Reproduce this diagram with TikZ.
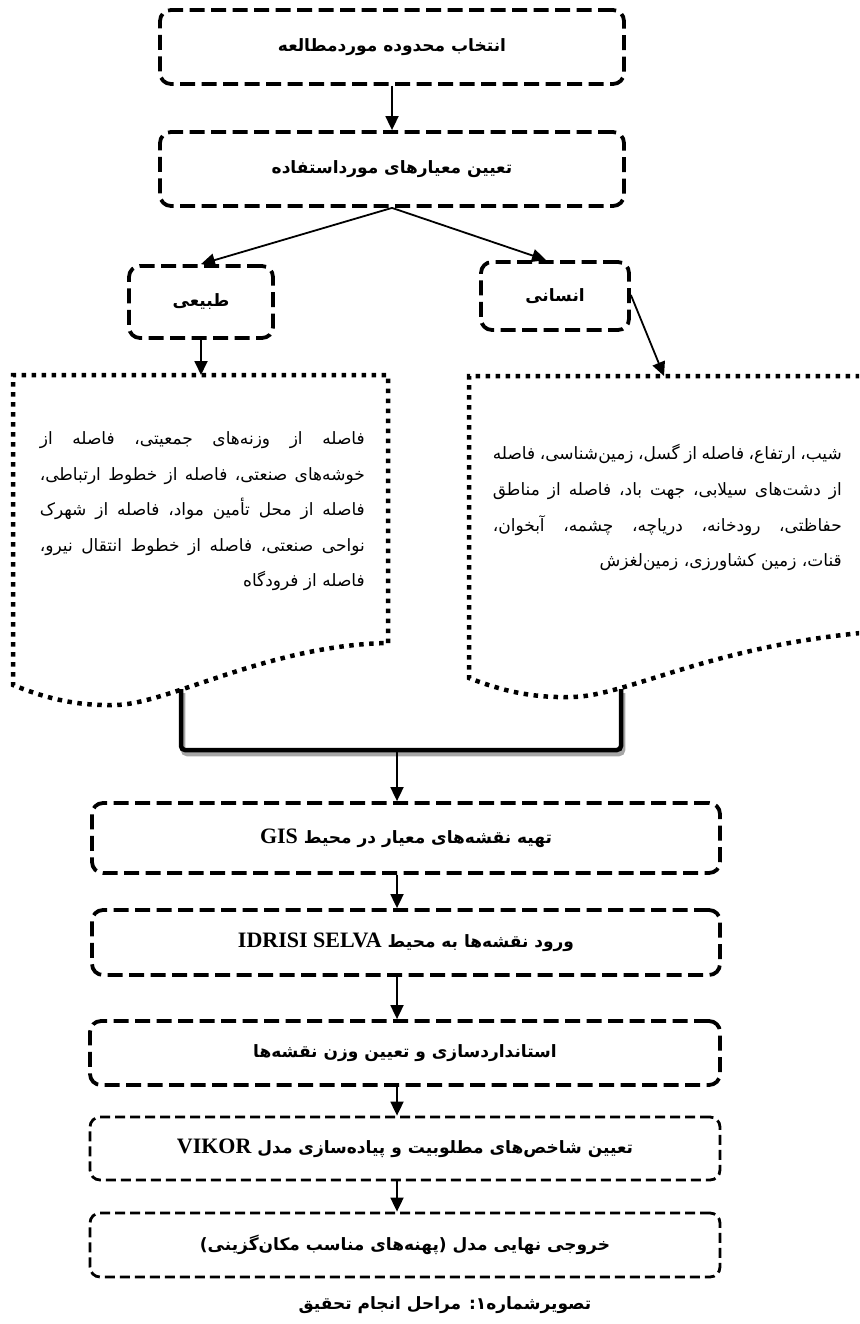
\documentclass[tikz,border=0pt]{standalone}
\usepackage{fontspec}
\usetikzlibrary{arrows.meta,calc}
\TeXXeTstate=1
\newfontfamily\fa[Script=Arabic]{DejaVu Sans}
\newfontfamily\lat{Liberation Serif}
\newcommand\RL[1]{\beginR #1\endR}
\newcommand\LRw[1]{\beginL{\lat\bfseries\fontsize{22}{26}\selectfont #1}\endL{}}
\newcommand\jline[2]{\hbox to #1{\beginR #2\endR}}
\newcommand\rline[2]{\hbox to #1{\hfill\beginR #2\endR}}
\tikzset{
  boxthick/.style={draw, line width=3.8pt, dash pattern=on 15pt off 6.5pt,
    rounded corners=11pt, inner sep=0pt,
    font=\fa\bfseries\fontsize{17}{22}\selectfont},
  boxthin/.style={draw, line width=2.8pt, dash pattern=on 10pt off 5pt,
    rounded corners=10pt, inner sep=0pt,
    font=\fa\bfseries\fontsize{17}{22}\selectfont},
  docline/.style={line width=4.5pt, dash pattern=on 4.5pt off 5.5pt},
  arr/.style={line width=1.8pt, -{Triangle[length=14pt,width=13pt]}},
  bodytext/.style={inner sep=0pt, font=\fa\fontsize{17}{20}\selectfont},
}
\begin{document}
\begin{tikzpicture}[x=1pt,y=-1pt]
\useasboundingbox (0,0) rectangle (859,1324);
\clip (0,0) rectangle (859,1324);

% top boxes
\node[boxthick, minimum width=464pt, minimum height=74pt] (b1) at (392,47) {\RL{انتخاب محدوده موردمطالعه}};
\node[boxthick, minimum width=464pt, minimum height=74pt] (b2) at (392,169) {\RL{تعیین معیارهای مورداستفاده}};
\node[boxthick, minimum width=144pt, minimum height=72pt] (tab) at (201,302) {\RL{طبیعی}};
\node[boxthick, minimum width=148pt, minimum height=68pt] (ens) at (555,296) {\RL{انسانی}};

\draw[arr] (b1.south) -- (b2.north);
\draw[arr] (b2.south) -- (tab.north);
\draw[arr] (b2.south) -- ([xshift=-9pt]ens.north);

% document shapes
\coordinate (ldtop) at (201,375);
\coordinate (rdtop) at (664,376);
\draw[docline] (388,643) -- (388,375) -- (13,375) -- (13,685)
  .. controls (50,700) and (80,706) .. (117,705)
  .. controls (170,703) and (270,645) .. (388,643);
\draw[docline] (900,376) -- (469,376) -- (469,678)
  .. controls (505,692) and (535,698) .. (572,697)
  .. controls (630,696) and (720,640) .. (900,630);

\draw[arr] (tab.south) -- (ldtop);
\draw[arr] ([yshift=1pt]ens.east) -- (rdtop);

% left text
\node[bodytext, anchor=base east] (l1) at (365,444) {\jline{325pt}{فاصله از وزنه‌های جمعیتی، فاصله از}};
\node[bodytext, anchor=base east] (l2) at (365,480) {\jline{325pt}{خوشه‌های صنعتی، فاصله از خطوط ارتباطی،}};
\node[bodytext, anchor=base east] (l3) at (365,515) {\jline{325pt}{فاصله از محل تأمین مواد، فاصله از شهرک}};
\node[bodytext, anchor=base east] (l4) at (365,551) {\jline{325pt}{نواحی صنعتی، فاصله از خطوط انتقال نیرو،}};
\node[bodytext, anchor=base east] (l5) at (365,586) {\rline{325pt}{فاصله از فرودگاه}};

% right text
\node[bodytext, anchor=base east] (r1) at (842,459) {\jline{349pt}{شیب، ارتفاع، فاصله از گسل، زمین‌شناسی، فاصله}};
\node[bodytext, anchor=base east] (r2) at (842,495) {\jline{349pt}{از دشت‌های سیلابی، جهت باد، فاصله از مناطق}};
\node[bodytext, anchor=base east] (r3) at (842,531) {\jline{349pt}{حفاظتی، رودخانه، دریاچه، چشمه، آبخوان،}};
\node[bodytext, anchor=base east] (r4) at (842,566) {\rline{349pt}{قنات، زمین کشاورزی، زمین‌لغزش}};

% bracket
\coordinate (bl) at (181,689);
\coordinate (br) at (621,689);
\coordinate (bm) at (397,750);
\coordinate (ax) at (397,0);
\draw[line width=4.5pt, black!35, rounded corners=4pt, transform canvas={xshift=2pt,yshift=-4pt}] (bl) |- (br |- bm) -- (br);
\draw[line width=4.5pt, rounded corners=4pt] (bl) |- (br |- bm) -- (br);

% lower boxes
\node[boxthick, minimum width=628pt, minimum height=70pt] (gis) at (406,838) {\RL{تهیه نقشه‌های معیار در محیط \LRw{GIS}}};
\node[boxthick, minimum width=628pt, minimum height=65pt] (idr) at (406,942.5) {\RL{ورود نقشه‌ها به محیط \LRw{IDRISI SELVA}}};
\node[boxthick, minimum width=630pt, minimum height=64pt] (std) at (405,1053) {\RL{استانداردسازی و تعیین وزن نقشه‌ها}};
\node[boxthin, minimum width=630pt, minimum height=63pt] (vik) at (405,1148.5) {\RL{تعیین شاخص‌های مطلوبیت و پیاده‌سازی مدل \LRw{VIKOR}}};
\node[boxthin, minimum width=630pt, minimum height=64pt] (out) at (405,1245) {\RL{خروجی نهایی مدل (پهنه‌های مناسب مکان‌گزینی)}};

\draw[arr] (bm) -- (gis.north -| ax);
\draw[arr] (gis.south -| ax) -- (idr.north -| ax);
\draw[arr] (idr.south -| ax) -- (std.north -| ax);
\draw[arr] (std.south -| ax) -- (vik.north -| ax);
\draw[arr] (vik.south -| ax) -- (out.north -| ax);

\node[inner sep=0pt, font=\fa\bfseries\fontsize{17}{22}\selectfont] (cap) at (445,1305) {\RL{تصویرشماره۱: مراحل انجام تحقیق}};
\end{tikzpicture}
\end{document}
